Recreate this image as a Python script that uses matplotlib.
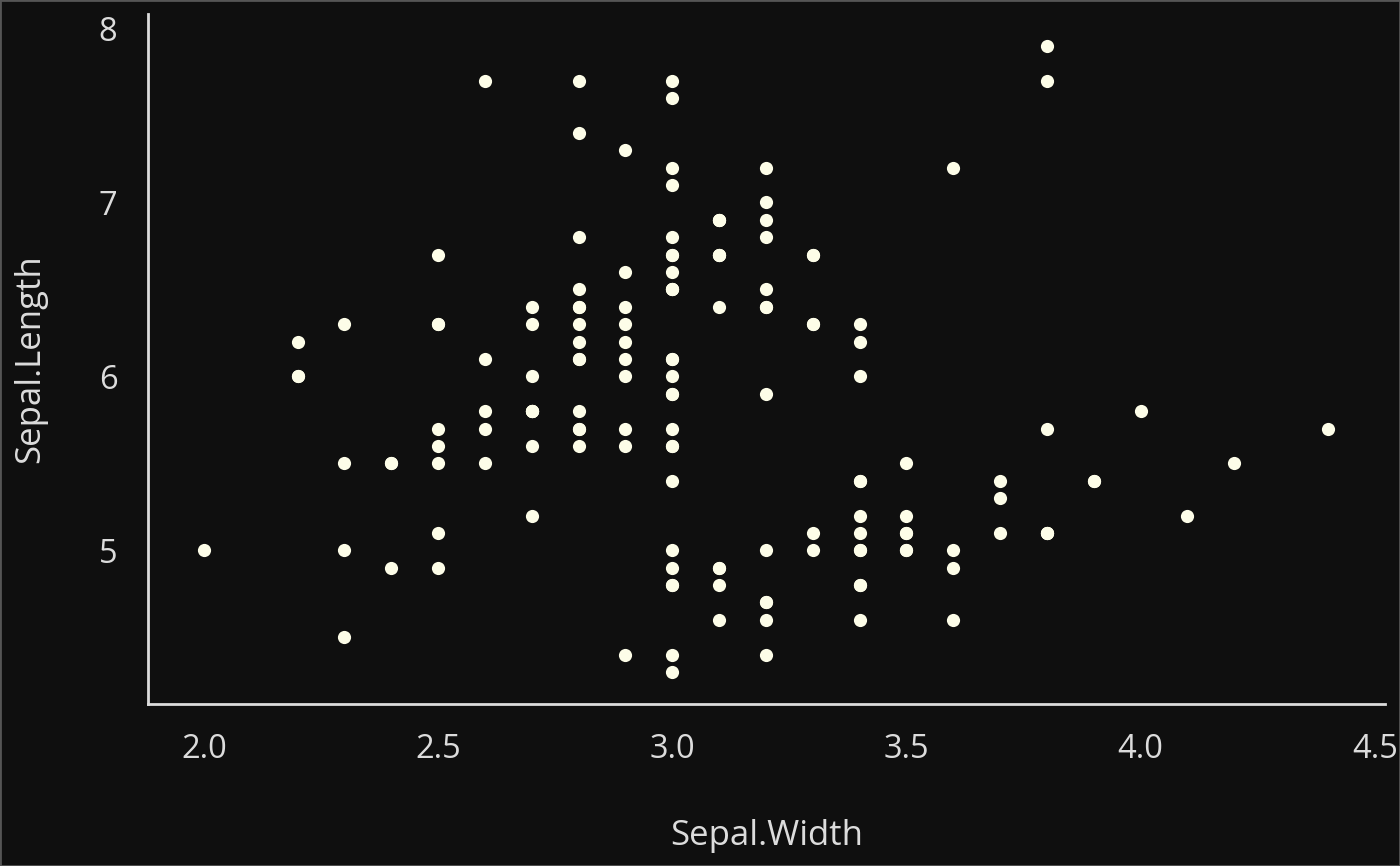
import matplotlib.pyplot as plt
from matplotlib.patches import Rectangle

# iris: Sepal.Length, Sepal.Width
sepal_length = [
    5.1, 4.9, 4.7, 4.6, 5.0, 5.4, 4.6, 5.0, 4.4, 4.9, 5.4, 4.8, 4.8, 4.3, 5.8, 5.7, 5.4, 5.1, 5.7, 5.1,
    5.4, 5.1, 4.6, 5.1, 4.8, 5.0, 5.0, 5.2, 5.2, 4.7, 4.8, 5.4, 5.2, 5.5, 4.9, 5.0, 5.5, 4.9, 4.4, 5.1,
    5.0, 4.5, 4.4, 5.0, 5.1, 4.8, 5.1, 4.6, 5.3, 5.0,
    7.0, 6.4, 6.9, 5.5, 6.5, 5.7, 6.3, 4.9, 6.6, 5.2, 5.0, 5.9, 6.0, 6.1, 5.6, 6.7, 5.6, 5.8, 6.2, 5.6,
    5.9, 6.1, 6.3, 6.1, 6.4, 6.6, 6.8, 6.7, 6.0, 5.7, 5.5, 5.5, 5.8, 6.0, 5.4, 6.0, 6.7, 6.3, 5.6, 5.5,
    5.5, 6.1, 5.8, 5.0, 5.6, 5.7, 5.7, 6.2, 5.1, 5.7,
    6.3, 5.8, 7.1, 6.3, 6.5, 7.6, 4.9, 7.3, 6.7, 7.2, 6.5, 6.4, 6.8, 5.7, 5.8, 6.4, 6.5, 7.7, 7.7, 6.0,
    6.9, 5.6, 7.7, 6.3, 6.7, 7.2, 6.2, 6.1, 6.4, 7.2, 7.4, 7.9, 6.4, 6.3, 6.1, 7.7, 6.3, 6.4, 6.0, 6.9,
    6.7, 6.9, 5.8, 6.8, 6.7, 6.7, 6.3, 6.5, 6.2, 5.9,
]
sepal_width = [
    3.5, 3.0, 3.2, 3.1, 3.6, 3.9, 3.4, 3.4, 2.9, 3.1, 3.7, 3.4, 3.0, 3.0, 4.0, 4.4, 3.9, 3.5, 3.8, 3.8,
    3.4, 3.7, 3.6, 3.3, 3.4, 3.0, 3.4, 3.5, 3.4, 3.2, 3.1, 3.4, 4.1, 4.2, 3.1, 3.2, 3.5, 3.6, 3.0, 3.4,
    3.5, 2.3, 3.2, 3.5, 3.8, 3.0, 3.8, 3.2, 3.7, 3.3,
    3.2, 3.2, 3.1, 2.3, 2.8, 2.8, 3.3, 2.4, 2.9, 2.7, 2.0, 3.0, 2.2, 2.9, 2.9, 3.1, 3.0, 2.7, 2.2, 2.5,
    3.2, 2.8, 2.5, 2.8, 2.9, 3.0, 2.8, 3.0, 2.9, 2.6, 2.4, 2.4, 2.7, 2.7, 3.0, 3.4, 3.1, 2.3, 3.0, 2.5,
    2.6, 3.0, 2.6, 2.3, 2.7, 3.0, 2.9, 2.9, 2.5, 2.8,
    3.3, 2.7, 3.0, 2.9, 3.0, 3.0, 2.5, 2.9, 2.5, 3.6, 3.2, 2.7, 3.0, 2.5, 2.8, 3.2, 3.0, 3.8, 2.6, 2.2,
    3.2, 2.8, 2.8, 2.7, 3.3, 3.2, 2.8, 3.0, 2.8, 3.0, 2.8, 3.8, 2.8, 2.8, 2.6, 3.0, 3.4, 3.1, 3.0, 3.1,
    3.1, 3.1, 2.7, 3.2, 3.3, 3.0, 2.5, 3.0, 3.4, 3.0,
]
x_ticks = [2.0, 2.5, 3.0, 3.5, 4.0, 4.5]
x_labels = ['2.0', '2.5', '3.0', '3.5', '4.0', '4.5']
y_ticks = [5, 6, 7, 8]

plt.rcParams['font.family'] = ['Open Sans', 'DejaVu Sans']
bg = '#0f0f0f'
fg = '#dcdcdc'

fig = plt.figure(figsize=(14, 8.66), dpi=100, facecolor=bg)
ax = fig.add_axes([148/1400, 162/866, 1237/1400, 690/866], facecolor=bg)

ax.scatter(sepal_width, sepal_length, s=90, color='#fdfde8', linewidths=0, zorder=3)

ax.set_xlim(1.8804, 4.522)
ax.set_ylim(4.116, 8.084)
ax.set_xticks(x_ticks, x_labels)
ax.set_yticks(y_ticks)
ax.tick_params(length=0, labelsize=23.5, colors=fg)
ax.tick_params(axis='x', pad=21)
ax.tick_params(axis='y', pad=22)

for s in ['top', 'right']:
    ax.spines[s].set_visible(False)
for s in ['left', 'bottom']:
    ax.spines[s].set_color(fg)
    ax.spines[s].set_linewidth(2)

ax.set_xlabel('Sepal.Width', fontsize=25, color=fg, labelpad=38)
ax.set_ylabel('Sepal.Length', fontsize=25, color=fg, labelpad=37)

fig.patches.append(Rectangle((0, 0), 1, 1, transform=fig.transFigure,
                             fill=False, edgecolor='#555555', linewidth=2))

fig.savefig('out.png', dpi=100, facecolor=bg)
